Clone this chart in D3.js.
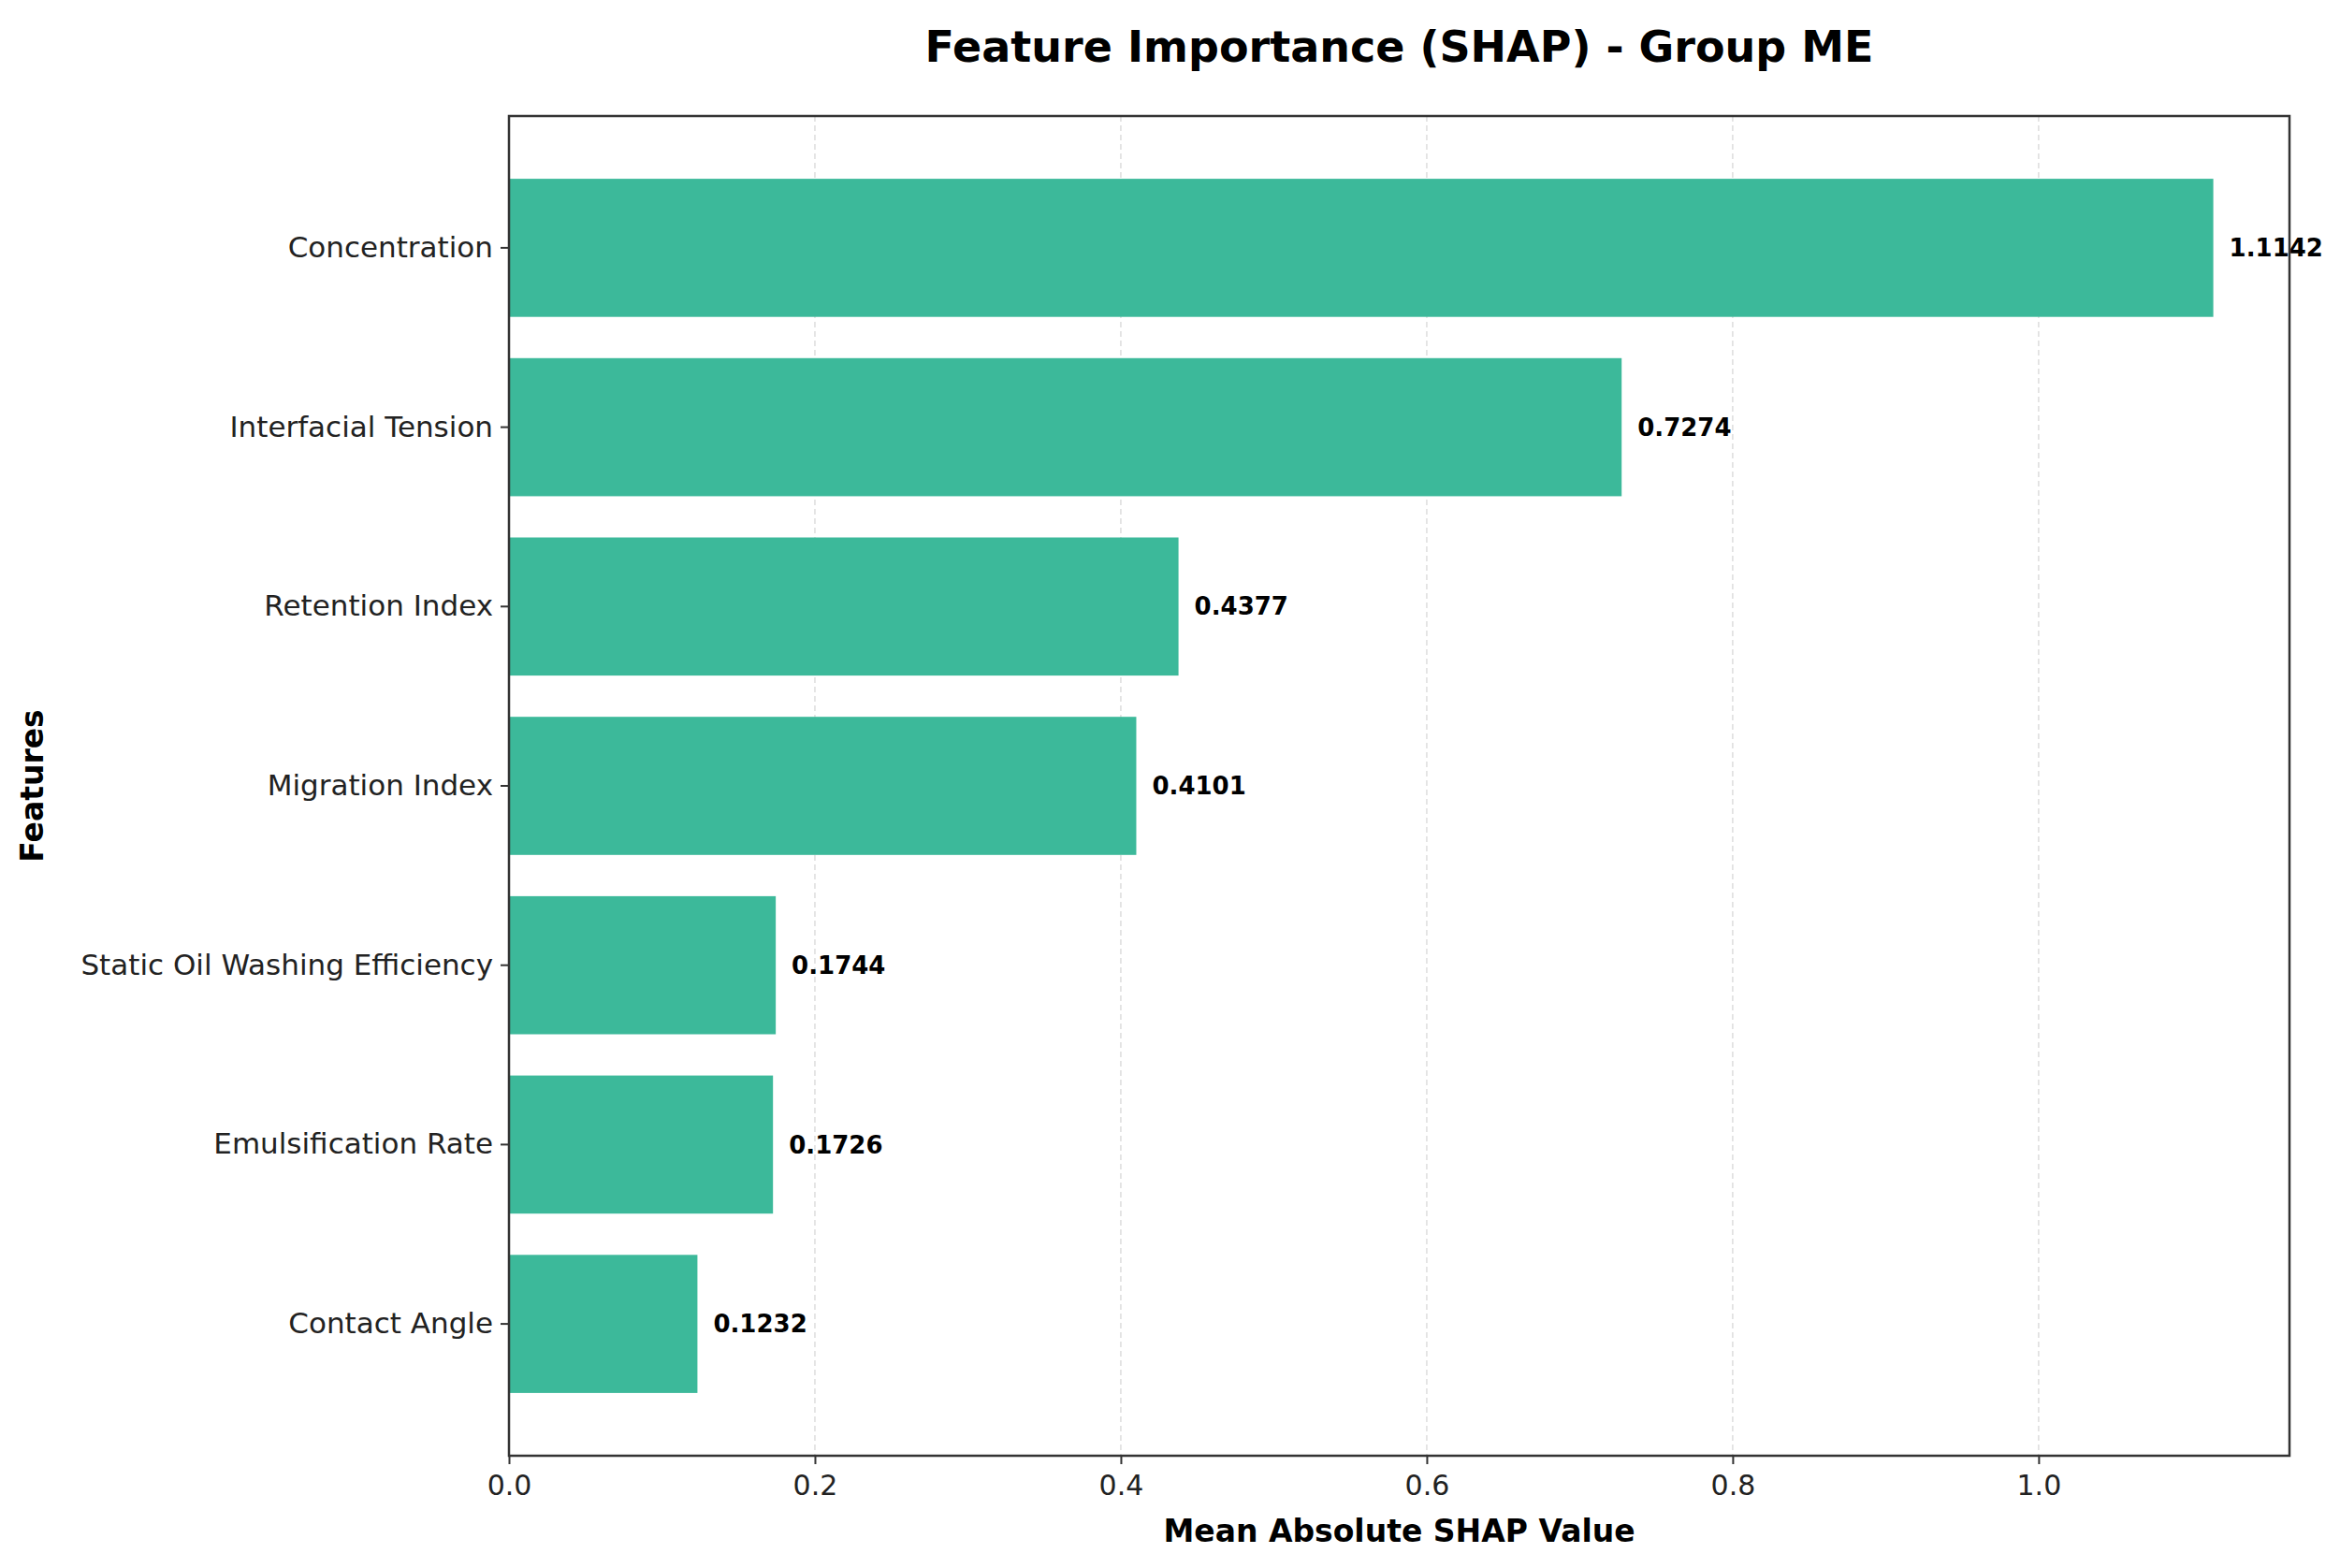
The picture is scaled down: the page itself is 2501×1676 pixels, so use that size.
<!DOCTYPE html>
<html>
<head>
<meta charset="utf-8">
<script src="https://cdn.jsdelivr.net/npm/d3@7"></script>
<style>
  body { margin: 0; background: #fff; }
  text { font-family: "DejaVu Sans", sans-serif; }
</style>
</head>
<body>
<div id="chart"></div>
<script>
// Chart data, top bar first.
const features = ["Concentration", "Interfacial Tension", "Retention Index", "Migration Index",
  "Static Oil Washing Efficiency", "Emulsification Rate", "Contact Angle"];
const shapValues = [1.1142, 0.7274, 0.4377, 0.4101, 0.1744, 0.1726, 0.1232];
const xTicks = [0.0, 0.2, 0.4, 0.6, 0.8, 1.0];

const width = 2501;
const height = 1676;
const marginTop = 124;
const marginRight = 54;
const marginBottom = 120;
const marginLeft = 544;

const x = d3.scaleLinear()
    .domain([0, 1.164])
    .range([marginLeft, width - marginRight]);

const y = d3.scaleBand()
    .domain(features)
    .range([marginTop, height - marginBottom])
    .paddingInner(0.23)
    .paddingOuter(0.35);

const svg = d3.create("svg")
    .attr("width", width)
    .attr("height", height);

// Dashed vertical grid.
svg.append("g")
  .selectAll("line")
  .data(xTicks)
  .join("line")
    .attr("x1", d => x(d)).attr("x2", d => x(d))
    .attr("y1", marginTop).attr("y2", height - marginBottom)
    .attr("stroke", "#ddd")
    .attr("stroke-width", 1.5)
    .attr("stroke-dasharray", "6,4");

// Bars.
svg.append("g")
  .selectAll("rect")
  .data(features)
  .join("rect")
    .attr("x", x(0))
    .attr("y", d => y(d))
    .attr("width", (d, i) => x(shapValues[i]) - x(0))
    .attr("height", y.bandwidth())
    .attr("fill", "#3cb99a");

// Value labels.
svg.append("g")
  .selectAll("text")
  .data(features)
  .join("text")
    .attr("x", (d, i) => x(shapValues[i]) + 17)
    .attr("y", d => y(d) + y.bandwidth() / 2)
    .attr("dy", "0.35em")
    .attr("font-size", 26)
    .attr("font-weight", "bold")
    .text((d, i) => shapValues[i].toFixed(4));

// Axes.
const xAxis = svg.append("g")
    .attr("transform", `translate(0,${height - marginBottom})`)
    .call(d3.axisBottom(x).tickValues(xTicks).tickFormat(d3.format(".1f")).tickSize(9).tickPadding(12));
xAxis.selectAll("text").attr("font-size", 30).attr("fill", "#222");

const yAxis = svg.append("g")
    .attr("transform", `translate(${marginLeft},0)`)
    .call(d3.axisLeft(y).tickSize(9).tickPadding(8));
yAxis.selectAll("text").attr("font-size", 31).attr("fill", "#222");
svg.selectAll(".domain").remove();
svg.selectAll(".tick line").attr("stroke", "#333").attr("stroke-width", 2);

// Frame.
svg.append("rect")
    .attr("x", marginLeft).attr("y", marginTop)
    .attr("width", width - marginRight - marginLeft)
    .attr("height", height - marginBottom - marginTop)
    .attr("fill", "none")
    .attr("stroke", "#333")
    .attr("stroke-width", 2.5);

// Titles.
svg.append("text")
    .attr("x", (marginLeft + width - marginRight) / 2)
    .attr("y", 66)
    .attr("text-anchor", "middle")
    .attr("font-size", 46)
    .attr("font-weight", "bold")
    .text("Feature Importance (SHAP) - Group ME");

svg.append("text")
    .attr("x", (marginLeft + width - marginRight) / 2)
    .attr("y", 1648)
    .attr("text-anchor", "middle")
    .attr("font-size", 33)
    .attr("font-weight", "bold")
    .text("Mean Absolute SHAP Value");

svg.append("text")
    .attr("transform", `translate(46,${(marginTop + height - marginBottom) / 2}) rotate(-90)`)
    .attr("text-anchor", "middle")
    .attr("font-size", 33)
    .attr("font-weight", "bold")
    .text("Features");

d3.select("#chart").append(() => svg.node());
</script>
</body>
</html>
